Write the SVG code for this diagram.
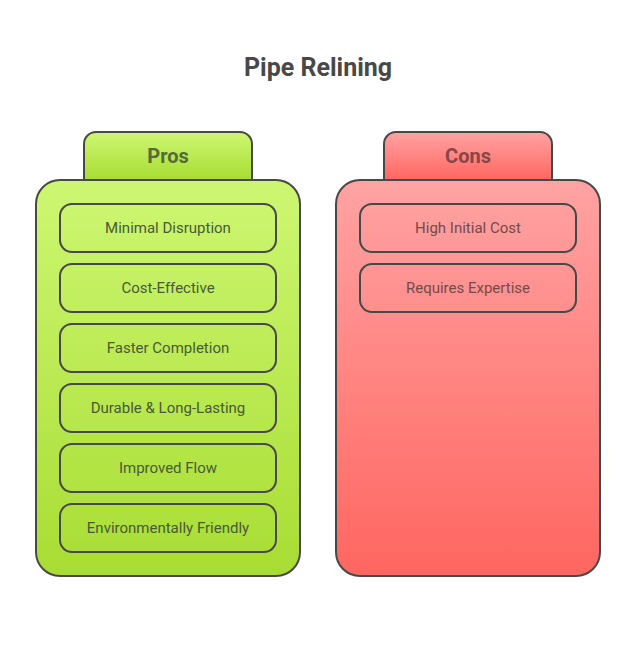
<svg xmlns="http://www.w3.org/2000/svg" width="636" height="649" viewBox="0 0 636 649">
<style>
.s{stroke:#484848;stroke-width:2}
.i{fill:none;stroke:#484848;stroke-width:2}
text{font-family:Roboto,"Liberation Sans",sans-serif;text-anchor:middle}
.t{font-size:25px;font-weight:700;fill:#484848}
.h{font-size:20px;font-weight:700}
.l{font-size:15px}
.gt{fill:#4a5a38}
.rt{fill:#744a4a}
</style>
<defs>
<linearGradient id="gp" x1="0" y1="0" x2="0" y2="1"><stop offset="0" stop-color="#cdf772"/><stop offset="1" stop-color="#a8dd33"/></linearGradient>
<linearGradient id="gr" x1="0" y1="0" x2="0" y2="1"><stop offset="0" stop-color="#ffa3a3"/><stop offset="1" stop-color="#ff6660"/></linearGradient>
</defs>
<rect width="636" height="649" fill="#fff"/>
<g id="title"><text class="t" x="318" y="76">Pipe Relining</text></g>
<g id="pros">
<path class="s" fill="url(#gp)" d="M84 180V144a12 12 0 0 1 12-12H240a12 12 0 0 1 12 12V180Z"/>
<text class="h" x="168" y="163" fill="#556b38">Pros</text>
<rect class="s" fill="url(#gp)" x="36" y="180" width="264" height="396" rx="24"/>
</g>
<g id="pros-1"><rect class="i" x="60" y="204" width="216" height="48" rx="12"/><text class="l gt" x="168" y="233">Minimal Disruption</text></g>
<g id="pros-2"><rect class="i" x="60" y="264" width="216" height="48" rx="12"/><text class="l gt" x="168" y="293">Cost-Effective</text></g>
<g id="pros-3"><rect class="i" x="60" y="324" width="216" height="48" rx="12"/><text class="l gt" x="168" y="353">Faster Completion</text></g>
<g id="pros-4"><rect class="i" x="60" y="384" width="216" height="48" rx="12"/><text class="l gt" x="168" y="413">Durable &amp; Long-Lasting</text></g>
<g id="pros-5"><rect class="i" x="60" y="444" width="216" height="48" rx="12"/><text class="l gt" x="168" y="473">Improved Flow</text></g>
<g id="pros-6"><rect class="i" x="60" y="504" width="216" height="48" rx="12"/><text class="l gt" x="168" y="533">Environmentally Friendly</text></g>
<g id="cons">
<path class="s" fill="url(#gr)" d="M384 180V144a12 12 0 0 1 12-12H540a12 12 0 0 1 12 12V180Z"/>
<text class="h" x="468" y="163" fill="#8a4545">Cons</text>
<rect class="s" fill="url(#gr)" x="336" y="180" width="264" height="396" rx="24"/>
</g>
<g id="cons-1"><rect class="i" x="360" y="204" width="216" height="48" rx="12"/><text class="l rt" x="468" y="233">High Initial Cost</text></g>
<g id="cons-2"><rect class="i" x="360" y="264" width="216" height="48" rx="12"/><text class="l rt" x="468" y="293">Requires Expertise</text></g>
<g id="connectors"/>
</svg>
